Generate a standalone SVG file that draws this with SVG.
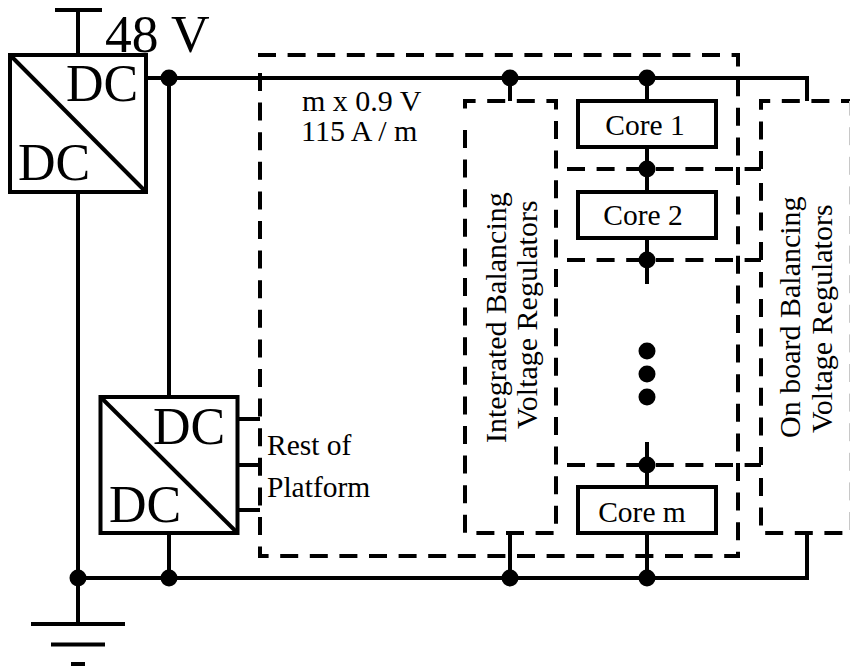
<svg xmlns="http://www.w3.org/2000/svg" width="850" height="670" viewBox="0 0 850 670">
<style>
.w{fill:none;stroke:#000;stroke-width:4}
.d{fill:none;stroke:#000;stroke-width:4;stroke-dasharray:18 11.6}
.e{fill:none;stroke:#c8c8c8;stroke-width:1;stroke-dasharray:18 11.6;stroke-dashoffset:26.600}
.b{fill:#fff;stroke:#000;stroke-width:4}
.j{fill:#000}
text{font-family:"Liberation Serif","Times New Roman",serif;fill:#000}
.l{font-size:52px}
.c{font-size:29.500px;text-anchor:middle}
.t{font-size:30px}
.p{font-size:29.500px}
</style>
<rect width="850" height="670" fill="#fff"/>
<g id="boundaries">
<path class="d" d="M260 73V556H738V55H260V61"/>
<path class="d" d="M465 130V533H556V101H465V116"/>
<path class="d" d="M761 169V101H855"/>
<path class="d" d="M761 260V183"/>
<path class="d" d="M761 465V272"/>
<path class="d" d="M761 478V533H855"/>
<path class="d" d="M567 169H761"/>
<path class="d" d="M567 260H761"/>
<path class="d" d="M567 465H761"/>
<path class="e" d="M849.500 533V101"/>
</g>
<g id="connectors">
<path class="w" d="M55 10H102M78 10V624"/>
<path class="w" d="M146 78H807V101M169 78V397M169 533V578"/>
<path class="w" d="M78 578H807V533M510 78V101M510 533V578"/>
<path class="w" d="M647 78V101M647 147V192M647 238V284M647 442V487M647 533V578"/>
<path class="w" d="M237 419H260M237 465H260M237 510H260"/>
<path class="w" d="M31 624H125M51 644.500H105M71 664H85"/>
<circle class="j" cx="169" cy="78" r="8.500"/>
<circle class="j" cx="510" cy="78" r="8.500"/>
<circle class="j" cx="647" cy="78" r="8.500"/>
<circle class="j" cx="647" cy="169" r="8.500"/>
<circle class="j" cx="647" cy="260" r="8.500"/>
<circle class="j" cx="647" cy="465" r="8.500"/>
<circle class="j" cx="78" cy="578" r="8.500"/>
<circle class="j" cx="169" cy="578" r="8.500"/>
<circle class="j" cx="510" cy="578" r="8.500"/>
<circle class="j" cx="647" cy="578" r="8.500"/>
<circle class="j" cx="647" cy="351" r="8.500"/>
<circle class="j" cx="647" cy="374" r="8.500"/>
<circle class="j" cx="647" cy="397" r="8.500"/>
</g>
<g id="converter-1">
<rect class="b" x="10" y="55" width="136" height="137"/>
<path class="w" d="M10 55L146 192"/>
<text class="l" x="66" y="101">DC</text>
<text class="l" x="18" y="180">DC</text>
</g>
<g id="converter-2">
<rect class="b" x="100.500" y="397" width="137" height="136"/>
<path class="w" d="M100.500 397L237.500 533"/>
<text class="l" x="153" y="444">DC</text>
<text class="l" x="109" y="522">DC</text>
</g>
<g id="core-1"><rect class="b" x="578" y="101" width="138" height="46"/><text class="c" x="645" y="135">Core 1</text></g>
<g id="core-2"><rect class="b" x="578" y="192" width="138" height="46"/><text class="c" x="643" y="225">Core 2</text></g>
<g id="core-m"><rect class="b" x="578" y="487" width="138" height="46"/><text class="c" x="642" y="522">Core m</text></g>
<g id="labels">
<text class="l" x="105" y="52" style="font-size:53.500px">48 V</text>
<text class="t" x="302" y="111">m x 0.9 V</text>
<text class="t" x="301" y="141">115 A / m</text>
<text class="p" x="267" y="455">Rest of</text>
<text class="p" x="267" y="497">Platform</text>
<text class="t" transform="translate(506 443) rotate(-90)">Integrated Balancing</text>
<text class="t" transform="translate(536.500 429) rotate(-90)">Voltage Regulators</text>
<text class="t" transform="translate(799.500 438) rotate(-90)">On board Balancing</text>
<text class="t" transform="translate(832 433) rotate(-90)">Voltage Regulators</text>
</g>
</svg>
